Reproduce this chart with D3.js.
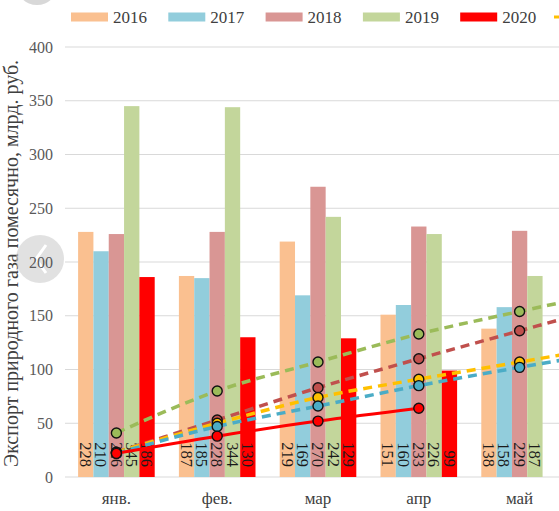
<!DOCTYPE html>
<html>
<head>
<meta charset="utf-8">
<script src="https://cdn.jsdelivr.net/npm/d3@7"></script>
<style>
  body { margin: 0; background: #fff; }
  svg text { font-family: "Liberation Serif", "Times New Roman", "DejaVu Serif", serif; }
</style>
</head>
<body>
<svg id="chart"></svg>
<script>
const WIDTH = 559;
const HEIGHT = 511;
const FONT = "Liberation Serif, Times New Roman, DejaVu Serif, serif";

const months = ["янв.", "фев.", "мар", "апр", "май"];
const years = ["2016", "2017", "2018", "2019", "2020"];
const v2016 = [228, 187, 219, 151, 138];
const v2017 = [210, 185, 169, 160, 158];
const v2018 = [226, 228, 270, 233, 229];
const v2019 = [345, 344, 242, 226, 187];
const v2020 = [186, 130, 129, 99, null];
const yTicks = [0, 50, 100, 150, 200, 250, 300, 350, 400];

// marker series drawn over the bars (last value = forecast half a month ahead)
const dots2018 = [23, 53, 83, 110, 136];
const fc2018 = 149;
const dotsYellow = [23, 50, 74, 91, 107];
const fcYellow = 115;
const dots2017 = [22, 47, 66, 85, 102];
const fc2017 = 110;
const dots2019 = [41, 80, 107, 133, 154];
const fc2019 = 164;
const dots2020 = [22, 38, 52, 64];

const barColors = ["#fac090", "#92cddc", "#d99694", "#c3d69b", "#ff0000"];

const svg = d3.select("#chart")
   .attr("width", WIDTH).attr("height", HEIGHT)
   .attr("font-family", FONT);

const x = d3.scaleBand()
   .domain(months)
   .range([66, 570])
   .paddingInner(0.24)
   .paddingOuter(0.12);

const xSub = d3.scaleBand()
   .domain(years)
   .range([0, x.bandwidth()]);

const y = d3.scaleLinear()
   .domain([0, 400])
   .range([477, 47]);

// index position -> pixel (category centres)
const xi = i => x(months[0]) + x.bandwidth() / 2 + i * x.step();

// gridlines
svg.append("g")
   .selectAll("line")
   .data(yTicks)
   .enter()
   .append("line")
   .attr("x1", 65).attr("x2", WIDTH)
   .attr("y1", d => y(d)).attr("y2", d => y(d))
   .attr("stroke", "#d9d9d9")
   .attr("stroke-width", 1);

// y title
svg.append("text")
   .attr("transform", `translate(18, ${(477 + 50) / 2}) rotate(-90)`)
   .attr("text-anchor", "middle")
   .attr("font-size", 20)
   .attr("fill", "#404040")
   .text("Экспорт природного газа помесячно, млрд. руб.");

// overlay buttons from the screenshot
svg.append("circle")
   .attr("cx", 37).attr("cy", -16).attr("r", 21)
   .attr("fill", "rgba(190,190,190,0.6)");
svg.append("circle")
   .attr("cx", 40).attr("cy", 259).attr("r", 24)
   .attr("fill", "rgba(205,205,205,0.6)");
svg.append("polyline")
   .attr("points", "46,245 36,259 46,273")
   .attr("fill", "none")
   .attr("stroke", "#fff")
   .attr("stroke-width", 3);

// y axis labels
svg.append("g")
   .selectAll("text")
   .data(yTicks)
   .enter()
   .append("text")
   .attr("x", 53)
   .attr("y", d => y(d))
   .attr("dy", "0.35em")
   .attr("text-anchor", "end")
   .attr("font-size", 16)
   .attr("fill", "#595959")
   .text(d => d);

// bars
const series = [v2016, v2017, v2018, v2019, v2020];
const barData = [];
months.forEach((m, i) => {
   series.forEach((s, j) => {
      if (s[i] != null) barData.push({ month: m, year: years[j], value: s[i], color: barColors[j] });
   });
});

svg.append("g")
   .selectAll("rect")
   .data(barData)
   .enter()
   .append("rect")
   .attr("x", d => x(d.month) + xSub(d.year))
   .attr("y", d => y(d.value))
   .attr("width", xSub.bandwidth())
   .attr("height", d => y(0) - y(d.value))
   .attr("fill", d => d.color);

// bar value labels
svg.append("g")
   .selectAll("text")
   .data(barData)
   .enter()
   .append("text")
   .attr("transform", d => `translate(${x(d.month) + xSub(d.year) + xSub.bandwidth() / 2}, 467) rotate(90)`)
   .attr("dy", "0.35em")
   .attr("text-anchor", "end")
   .attr("font-size", 16.5)
   .attr("fill", "#1a1a1a")
   .text(d => d.value);

// month labels
svg.append("g")
   .selectAll("text")
   .data(months)
   .enter()
   .append("text")
   .attr("x", d => x(d) + x.bandwidth() / 2)
   .attr("y", 504)
   .attr("text-anchor", "middle")
   .attr("font-size", 17)
   .attr("fill", "#404040")
   .text(d => d);

// lines
const lineGen = d3.line()
   .x(d => xi(d[0]))
   .y(d => y(d[1]))
   .curve(d3.curveMonotoneX);

const withForecast = (vals, fc) => vals.map((v, i) => [i, v]).concat([[vals.length - 0.5, fc]]);

const trendLines = [
   { pts: withForecast(dots2018, fc2018), color: "#c0504d" },
   { pts: withForecast(dotsYellow, fcYellow), color: "#ffc000" },
   { pts: withForecast(dots2017, fc2017), color: "#4bacc6" },
   { pts: withForecast(dots2019, fc2019), color: "#9bbb59" }
];

svg.append("g")
   .selectAll("path")
   .data(trendLines)
   .enter()
   .append("path")
   .attr("d", d => lineGen(d.pts))
   .attr("fill", "none")
   .attr("stroke", d => d.color)
   .attr("stroke-width", 3.5)
   .attr("stroke-dasharray", "9,6");

svg.append("path")
   .attr("d", lineGen(dots2020.map((v, i) => [i, v])))
   .attr("fill", "none")
   .attr("stroke", "#ff0000")
   .attr("stroke-width", 3);

// markers
const markerSets = [
   { vals: dots2018, color: "#c0504d" },
   { vals: dotsYellow, color: "#ffc000" },
   { vals: dots2017, color: "#4bacc6" },
   { vals: dots2019, color: "#9bbb59" },
   { vals: dots2020, color: "#ff0000" }
];
markerSets.forEach(ms => {
   svg.append("g")
      .selectAll("circle")
      .data(ms.vals)
      .enter()
      .append("circle")
      .attr("cx", (_, i) => xi(i))
      .attr("cy", d => y(d))
      .attr("r", 5)
      .attr("fill", ms.color)
      .attr("stroke", "#111")
      .attr("stroke-width", 1.4);
});

// legend
const legend = svg.append("g").attr("id", "legend");
years.forEach((yr, i) => {
   const g = legend.append("g").attr("transform", `translate(${71 + i * 97.3}, 17)`);
   g.append("rect")
      .attr("x", 0).attr("y", -4.5)
      .attr("width", 37).attr("height", 9)
      .attr("fill", barColors[i]);
   g.append("text")
      .attr("x", 42)
      .attr("dy", "0.35em")
      .attr("font-size", 17)
      .attr("fill", "#404040")
      .text(yr);
});
legend.append("line")
   .attr("x1", 554).attr("x2", 565)
   .attr("y1", 17).attr("y2", 17)
   .attr("stroke", "#ffc000")
   .attr("stroke-width", 3);
</script>
</body>
</html>
